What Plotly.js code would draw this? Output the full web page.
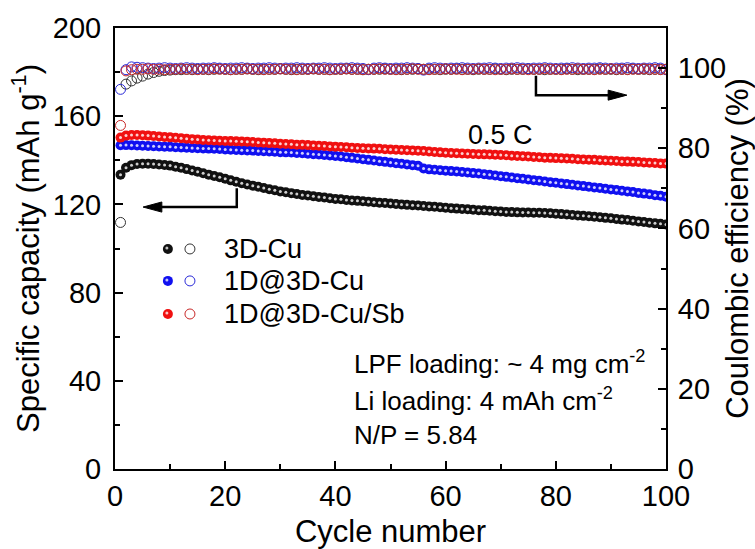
<!DOCTYPE html>
<html>
<head>
<meta charset="utf-8">
<script src="https://cdn.plot.ly/plotly-3.0.1.min.js"></script>
<style>html,body{margin:0;padding:0;background:#fff;}#chart{width:755px;height:549px;}</style>
</head>
<body>
<div id="chart"></div>
<script>
// ---- data ----
const cycles = [1,2,3,4,5,6,7,8,9,10,11,12,13,14,15,16,17,18,19,20,21,22,23,24,25,26,27,28,29,30,31,32,33,34,35,36,37,38,39,40,41,42,43,44,45,46,47,48,49,50,51,52,53,54,55,56,57,58,59,60,61,62,63,64,65,66,67,68,69,70,71,72,73,74,75,76,77,78,79,80,81,82,83,84,85,86,87,88,89,90,91,92,93,94,95,96,97,98,99,100];

const capBlack = [133.5,136.6,137.8,138.3,138.4,138.4,138.3,138.1,137.9,137.6,137.1,136.6,136.0,135.4,134.8,134.1,133.5,132.9,132.3,131.6,130.9,130.3,129.6,129.0,128.5,128.0,127.4,126.9,126.4,125.9,125.5,125.1,124.7,124.3,124.0,123.7,123.4,123.1,122.8,122.5,122.3,122.0,121.8,121.6,121.4,121.2,121.0,120.8,120.6,120.4,120.2,120.0,119.8,119.6,119.5,119.3,119.1,118.9,118.7,118.5,118.3,118.1,117.9,117.8,117.6,117.4,117.3,117.1,116.9,116.8,116.6,116.5,116.4,116.3,116.3,116.2,116.2,116.1,116.0,115.8,115.6,115.4,115.2,115.0,114.8,114.6,114.4,114.2,113.9,113.7,113.4,113.1,112.9,112.6,112.3,112.0,111.7,111.4,111.2,110.9];

const capBlue = [146.8,146.9,146.8,146.7,146.6,146.5,146.4,146.3,146.2,146.1,145.9,145.8,145.7,145.6,145.5,145.4,145.3,145.2,145.1,144.9,144.8,144.7,144.6,144.5,144.4,144.2,144.1,144.0,143.9,143.7,143.6,143.5,143.3,143.2,143.0,142.8,142.6,142.4,142.2,142.0,141.7,141.4,141.1,140.8,140.5,140.2,139.9,139.6,139.3,139.0,138.7,138.4,138.1,137.8,137.5,136.3,135.9,135.7,135.5,135.3,135.1,134.9,134.7,134.5,134.2,134.0,133.7,133.4,133.1,132.8,132.5,132.2,131.9,131.6,131.3,131.0,130.7,130.4,130.1,129.8,129.5,129.2,128.9,128.6,128.3,128.0,127.7,127.4,127.1,126.8,126.5,126.2,125.9,125.6,125.2,124.9,124.6,124.2,123.9,123.5];

const capRed = [150.3,151.2,151.5,151.5,151.4,151.2,151.0,150.8,150.6,150.4,150.2,150.0,149.8,149.6,149.4,149.2,149.1,149.0,148.9,148.8,148.7,148.6,148.5,148.4,148.3,148.1,148.0,147.8,147.7,147.5,147.4,147.3,147.1,147.0,146.9,146.7,146.6,146.5,146.3,146.2,146.0,145.9,145.7,145.6,145.5,145.4,145.3,145.2,145.0,144.9,144.8,144.7,144.6,144.5,144.3,144.2,144.0,143.8,143.6,143.4,143.3,143.2,143.1,143.0,142.9,142.8,142.7,142.6,142.5,142.4,142.3,142.1,142.0,141.8,141.7,141.5,141.4,141.2,141.1,141.0,140.9,140.8,140.7,140.5,140.4,140.3,140.2,140.0,139.9,139.8,139.7,139.5,139.4,139.3,139.2,139.0,138.9,138.8,138.6,138.5];

const ceBlack = [61.5,96.0,96.8,97.5,98.0,98.5,98.9,99.2,99.4,99.5,99.6,99.6,99.7,99.6,99.7,99.7,99.6,99.7,99.8,99.7,99.6,99.7,99.7,99.8,99.7,99.6,99.7,99.7,99.7,99.8,99.7,99.6,99.7,99.7,99.7,99.8,99.7,99.7,99.6,99.7,99.7,99.8,99.7,99.7,99.6,99.7,99.7,99.7,99.8,99.7,99.7,99.6,99.7,99.7,99.8,99.7,99.7,99.7,99.6,99.7,99.7,99.8,99.7,99.7,99.6,99.7,99.7,99.7,99.8,99.7,99.6,99.7,99.7,99.7,99.8,99.7,99.7,99.6,99.7,99.7,99.7,99.8,99.7,99.6,99.7,99.7,99.7,99.8,99.7,99.7,99.6,99.7,99.7,99.8,99.7,99.7,99.6,99.7,99.7,99.7];

const ceBlue = [94.7,99.6,100.3,100.2,100.1,100.0,99.9,100.0,100.1,100.0,99.9,100.0,100.1,100.0,99.9,100.0,100.0,100.1,100.0,99.9,100.0,100.0,100.1,100.0,99.9,100.0,100.0,100.1,100.0,99.9,100.0,100.0,100.1,100.0,99.9,100.0,100.0,100.1,100.0,99.9,100.0,100.0,100.1,100.0,99.9,99.6,100.0,100.1,100.0,99.9,100.0,100.0,100.1,100.0,99.9,99.5,100.0,100.1,100.0,99.9,100.0,100.0,100.1,100.0,99.9,100.0,100.0,100.1,100.0,99.9,100.0,100.0,100.1,100.0,99.9,100.0,100.0,100.1,100.0,99.9,100.0,100.0,100.1,100.0,99.9,100.0,100.0,100.1,100.0,99.9,100.0,100.0,100.1,100.0,99.9,100.0,100.0,100.1,100.0,99.6];

const ceRed = [85.7,99.3,99.6,99.7,99.7,99.8,99.7,99.7,99.6,99.7,99.7,99.8,99.7,99.7,99.6,99.7,99.7,99.8,99.7,99.7,99.6,99.7,99.7,99.8,99.7,99.7,99.6,99.7,99.7,99.8,99.7,99.7,99.6,99.7,99.7,99.8,99.7,99.7,99.6,99.7,99.7,99.8,99.7,99.7,99.6,99.7,99.7,99.8,99.7,99.7,99.6,99.7,99.7,99.8,99.7,99.7,99.6,99.7,99.7,99.8,99.7,99.7,99.6,99.7,99.7,99.8,99.7,99.7,99.6,99.7,99.7,99.8,99.7,99.7,99.6,99.7,99.7,99.8,99.7,99.7,99.6,99.7,99.7,99.8,99.7,99.7,99.6,99.7,99.7,99.8,99.7,99.7,99.6,99.7,99.7,99.8,99.7,99.7,99.6,99.7];

const seriesNames = ['3D-Cu', '1D@3D-Cu', '1D@3D-Cu/Sb'];
const fillColors = ['#111111', '#1010f0', '#f01010'];
const openColors = ['#333333', '#2a2ad8', '#c82828'];
const capData = [capBlack, capBlue, capRed];
const ceData = [ceBlack, ceBlue, ceRed];

const xTicks = [0, 20, 40, 60, 80, 100];
const yTicks = [0, 40, 80, 120, 160, 200];
const y2Ticks = [0, 20, 40, 60, 80, 100];

// ---- traces ----
const FONT = 'Liberation Sans, Arial, sans-serif';
const traces = [];
for (let i = 0; i < 3; i++) {
  traces.push({
    x: cycles, y: ceData[i], yaxis: 'y2', type: 'scatter', mode: 'markers',
    name: seriesNames[i] + ' CE', showlegend: false, hoverinfo: 'skip',
    marker: {symbol: 'circle-open', size: 10, color: openColors[i], line: {width: 1, color: openColors[i]}}
  });
}
for (let i = 0; i < 3; i++) {
  traces.push({
    x: cycles, y: capData[i], type: 'scatter', mode: 'markers',
    name: seriesNames[i], showlegend: false, hoverinfo: 'skip',
    marker: {symbol: 'circle', size: 10, color: fillColors[i], line: {width: 0}}
  });
  traces.push({
    x: cycles, y: capData[i], type: 'scatter', mode: 'markers',
    showlegend: false, hoverinfo: 'skip',
    marker: {symbol: 'circle', size: 3, color: 'rgba(255,255,255,0.8)', line: {width: 0}}
  });
}

// ---- legend made of shapes + text ----
const legX = [9.6, 13.6, 19.4];      // cycle units: filled marker, open marker, label
const legY = [99.8, 85.3, 70.3];     // capacity units (rows)
const shapes = [];
const annotations = [];
for (let i = 0; i < 3; i++) {
  shapes.push({type: 'circle', xref: 'x', yref: 'y', xsizemode: 'pixel', ysizemode: 'pixel',
    xanchor: legX[0], yanchor: legY[i], x0: -5, x1: 5, y0: -5, y1: 5,
    fillcolor: fillColors[i], line: {width: 0}});
  shapes.push({type: 'circle', xref: 'x', yref: 'y', xsizemode: 'pixel', ysizemode: 'pixel',
    xanchor: legX[0], yanchor: legY[i], x0: -2.5, x1: 0.5, y0: -0.5, y1: 2.5,
    fillcolor: 'rgba(255,255,255,0.75)', line: {width: 0}});
  shapes.push({type: 'circle', xref: 'x', yref: 'y', xsizemode: 'pixel', ysizemode: 'pixel',
    xanchor: legX[1], yanchor: legY[i], x0: -5, x1: 5, y0: -5, y1: 5,
    fillcolor: 'rgba(0,0,0,0)', line: {width: 1, color: openColors[i]}});
  annotations.push({xref: 'x', yref: 'y', x: legX[2], y: legY[i], text: seriesNames[i],
    showarrow: false, xanchor: 'left', yanchor: 'middle', font: {family: FONT, size: 27, color: '#000'}});
}

// arrows (left -> capacity axis, right -> CE axis)
shapes.push({type: 'path', xref: 'x', yref: 'y', path: 'M 22.1,127.3 L 22.1,118.8 L 8.2,118.8',
  line: {color: '#000', width: 2.5}});
shapes.push({type: 'path', xref: 'x', yref: 'y', path: 'M 5.1,118.8 L 8.5,121.1 L 8.5,116.5 Z',
  fillcolor: '#000', line: {color: '#000', width: 1}});
shapes.push({type: 'path', xref: 'x', yref: 'y2', path: 'M 76.4,98.1 L 76.4,93.25 L 89.8,93.25',
  line: {color: '#000', width: 2.5}});
shapes.push({type: 'path', xref: 'x', yref: 'y2', path: 'M 92.9,93.25 L 89.5,94.5 L 89.5,92.0 Z',
  fillcolor: '#000', line: {color: '#000', width: 1}});

annotations.push({xref: 'x', yref: 'y', x: 70, y: 151.5, text: '0.5 C', showarrow: false,
  xanchor: 'center', yanchor: 'middle', font: {family: FONT, size: 27, color: '#000'}});
const noteLines = ['LPF loading: ~ 4 mg cm<sup>-2</sup>', 'Li loading: 4 mAh cm<sup>-2</sup>', 'N/P = 5.84'];
const noteY = [48.5, 31.3, 15.4];
for (let i = 0; i < noteLines.length; i++) {
  annotations.push({xref: 'x', yref: 'y', x: 43.0, y: noteY[i], text: noteLines[i], showarrow: false,
    xanchor: 'left', yanchor: 'middle', font: {family: FONT, size: 26, color: '#000'}});
}

const axisCommon = {
  showgrid: false, zeroline: false, showline: true, linecolor: '#000', linewidth: 2,
  ticks: 'inside', ticklen: 8, tickwidth: 2, tickcolor: '#000',
  tickfont: {family: FONT, size: 29, color: '#000'}
};

const layout = {
  width: 755, height: 549,
  margin: {l: 115, r: 89, t: 28, b: 80},
  paper_bgcolor: '#ffffff', plot_bgcolor: '#ffffff',
  showlegend: false,
  xaxis: Object.assign({}, axisCommon, {
    range: [0, 100], tickmode: 'array', tickvals: xTicks, mirror: true,
    minor: {tickvals: [10, 30, 50, 70, 90], ticks: 'inside', ticklen: 5, tickwidth: 2, tickcolor: '#000'},
    title: {text: 'Cycle number', font: {family: FONT, size: 31, color: '#000'}, standoff: 10}
  }),
  yaxis: Object.assign({}, axisCommon, {
    range: [0, 200], tickmode: 'array', tickvals: yTicks,
    minor: {tickvals: [20, 60, 100, 140, 180], ticks: 'inside', ticklen: 5, tickwidth: 2, tickcolor: '#000'},
    ticklabelstandoff: 6,
    title: {text: 'Specific capacity (mAh g<sup>-1</sup>)', font: {family: FONT, size: 31, color: '#000'}, standoff: 4}
  }),
  yaxis2: Object.assign({}, axisCommon, {
    overlaying: 'y', side: 'right', range: [0, 110], tickmode: 'array', tickvals: y2Ticks,
    minor: {tickvals: [10, 30, 50, 70, 90], ticks: 'inside', ticklen: 5, tickwidth: 2, tickcolor: '#000'},
    ticklabelstandoff: 4,
    title: {text: 'Coulombic efficiency (%)', font: {family: FONT, size: 31, color: '#000'}, standoff: 10}
  }),
  shapes: shapes,
  annotations: annotations
};

Plotly.newPlot('chart', traces, layout, {staticPlot: true, displayModeBar: false});
</script>
</body>
</html>
